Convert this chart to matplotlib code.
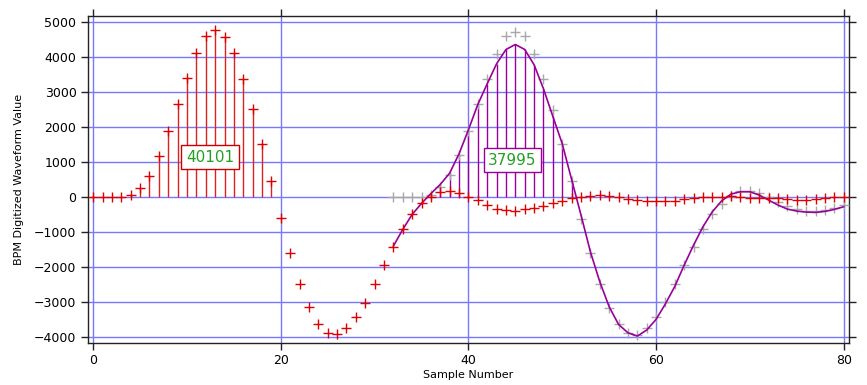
import numpy as np
import matplotlib
matplotlib.use('Agg')
import matplotlib.pyplot as plt

# digitized BPM waveform, one value per sample
samples = np.arange(81)
bpm_values = [
    0, 0, 0, 0, 60, 270, 610, 1180, 1895, 2650,
    3410, 4105, 4600, 4770, 4580, 4105, 3380, 2505, 1515, 466,
    -610, -1600, -2480, -3152, -3629, -3876, -3914, -3752, -3438, -3019,
    -2495, -1943, -1419, -924, -495, -181, 0, 152, 171, 105,
    10, -86, -230, -330, -380, -390, -352, -305, -257, -181,
    -105, -38, 10, 38, 57, 38, -10, -57, -86, -114,
    -114, -120, -105, -67, -38, -10, 10, 10, 29, -10,
    -38, -38, -38, -38, -67, -86, -86, -67, -38, -10,
    10,
]

# reference pulse (grey) and fitted pulse (purple), samples 32..80
ref_samples = np.arange(32, 81)
ref_values = [
    0, 0, 0, 0, 60, 300, 620, 1190, 1885, 2650,
    3380, 4095, 4590, 4712, 4590, 4095, 3360, 2495, 1523, 457,
    -620, -1610, -2480, -3160, -3635, -3876, -3930, -3740, -3430, -3000,
    -2490, -1943, -1419, -924, -480, -190, 30, 165, 185, 105,
    10, -150, -257, -330, -390, -410, -380, -320, -240,
]
fit_samples = np.arange(32, 81)
fit_values = [
    -1400, -924, -495, -181, 100, 362, 686, 1238, 1923, 2647,
    3237, 3808, 4217, 4360, 4217, 3779, 3094, 2304, 1523, 500,
    -514, -1562, -2419, -3133, -3638, -3876, -3971, -3800, -3495, -3050,
    -2550, -1943, -1371, -848, -419, -105, 86, 152, 152, 57,
    -86, -229, -343, -400, -429, -438, -410, -352, -276,
]

# integration windows (first and last sample)
bpm_window = (4, 19)
fit_window = (36, 51)

RED = '#e00000'
PURPLE = '#990099'
GREY = '#a8a8a8'
GRID = '#7878ff'
GREEN = '#22a022'

plt.rcParams['font.family'] = 'DejaVu Sans'

fig = plt.figure(figsize=(8.67, 3.85), dpi=100)
ax = fig.add_axes([0.101, 0.109, 0.8786, 0.850])

bpm = np.array(bpm_values)
ref = np.array(ref_values)
fit = np.array(fit_values)

# stems over the windows
w0, w1 = bpm_window
ax.vlines(samples[w0:w1 + 1], 0, bpm[w0:w1 + 1], color='#dd2020', lw=1.0, zorder=3)
sel = (fit_samples >= fit_window[0]) & (fit_samples <= fit_window[1])
ax.vlines(fit_samples[sel], 0, fit[sel], color=PURPLE, lw=1.0, zorder=3)

ax.plot(ref_samples, ref, ls='none', marker='+', ms=6.5, mew=1.0, color=GREY, zorder=4)
ax.plot(fit_samples, fit, color=PURPLE, lw=1.2, zorder=5)
ax.plot(samples, bpm, ls='none', marker='+', ms=6.5, mew=1.0, color=RED, zorder=6)

bpm_sum = int(bpm[w0:w1 + 1].sum())
fit_sum = int(fit[sel].sum())
ax.text(12.46, 1143, str(bpm_sum), color=GREEN, fontsize=11, ha='center', va='center',
        zorder=7, bbox=dict(boxstyle='square,pad=0.3', fc='white', ec='#cc0000', lw=1.0))
ax.text(44.69, 1057, str(fit_sum), color=GREEN, fontsize=11, ha='center', va='center',
        zorder=7, bbox=dict(boxstyle='square,pad=0.3', fc='white', ec=PURPLE, lw=1.0))

ax.set_xlim(-0.6, 80.6)
ax.set_ylim(-4170, 5180)
ax.set_xticks(range(0, 81, 20))
ax.set_yticks(range(-4000, 5001, 1000))
ax.grid(True, color=GRID, lw=1.0, zorder=1)
ax.set_axisbelow(True)

ax.tick_params(direction='out', length=5, width=1.0, labelsize=9, color='#222222',
               top=True, right=True, labeltop=False, labelright=False, pad=3)
for sp in ax.spines.values():
    sp.set_color('#222222')
    sp.set_linewidth(1.0)

ax.set_xlabel('Sample Number', fontsize=8, labelpad=2)
ax.set_ylabel('BPM Digitized Waveform Value', fontsize=8, labelpad=7)

fig.savefig('out.png', dpi=100)
